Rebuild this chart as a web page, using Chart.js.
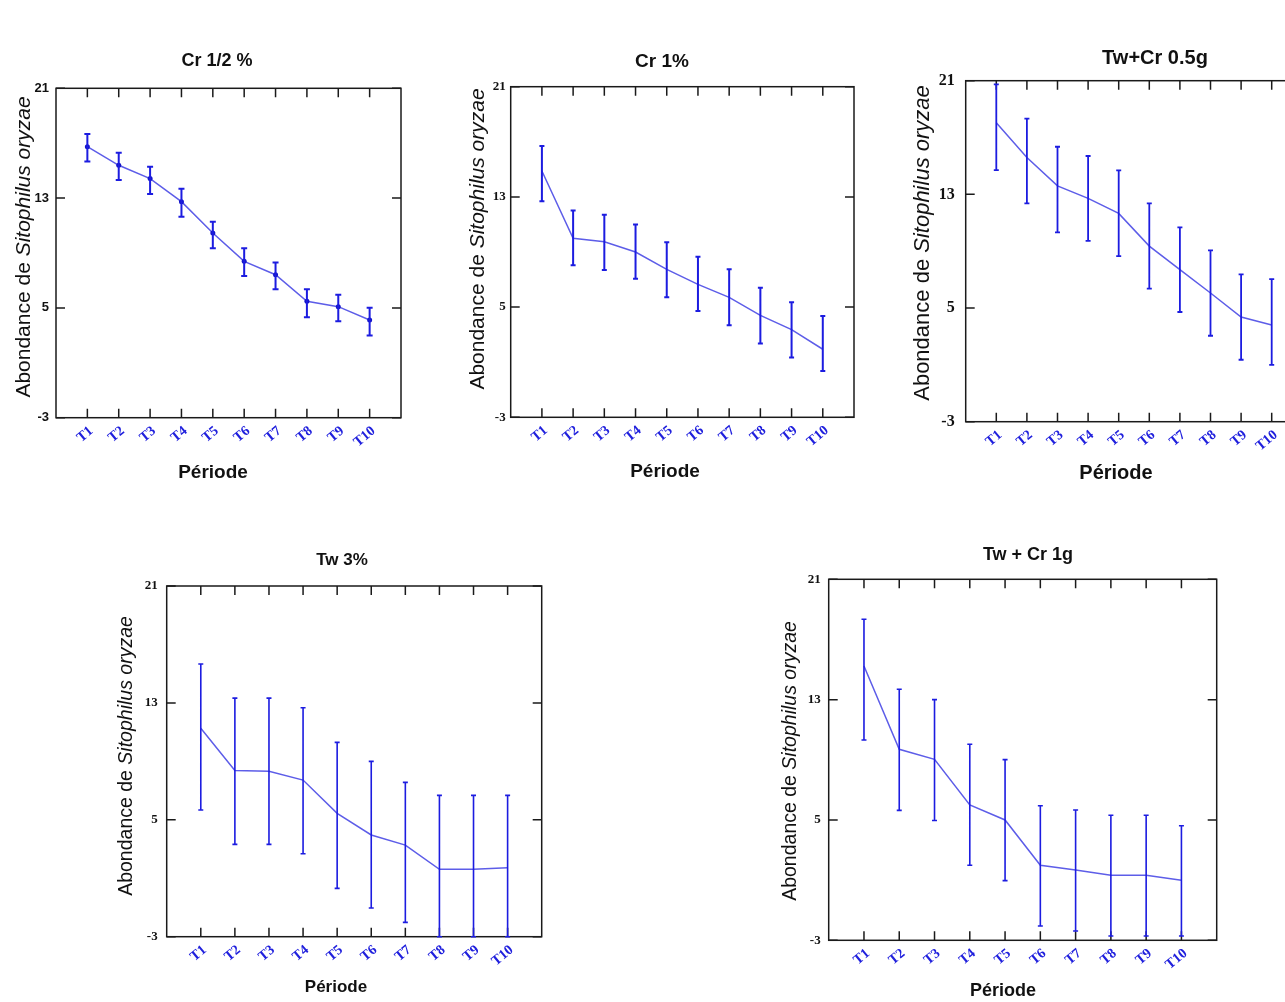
<!DOCTYPE html>
<html>
<head>
<meta charset="utf-8">
<script src="https://cdn.jsdelivr.net/npm/chart.js@4.4.1/dist/chart.umd.min.js"></script>
<style>
  html, body { margin: 0; padding: 0; background: #fff; }
  body { width: 1285px; height: 1002px; overflow: hidden; position: relative; }
  canvas { position: absolute; left: 0; top: 0; }
</style>
</head>
<body>
<canvas id="c1" width="1320" height="1002"></canvas>
<canvas id="c2" width="1320" height="1002"></canvas>
<canvas id="c3" width="1320" height="1002"></canvas>
<canvas id="c4" width="1320" height="1002"></canvas>
<canvas id="c5" width="1320" height="1002"></canvas>
<script>
const periods = ["T1", "T2", "T3", "T4", "T5", "T6", "T7", "T8", "T9", "T10"];
const yTicks = [-3, 5, 13, 21];
const xTitleText = "Période";
const yTitleA = "Abondance de ";
const yTitleB = "Sitophilus oryzae";

// Cr 1/2 %
const crHalfMean = [16.75, 15.39, 14.42, 12.74, 10.46, 8.39, 7.42, 5.48, 5.09, 4.12];
const crHalfLow = [15.66, 14.32, 13.3, 11.65, 9.34, 7.32, 6.35, 4.31, 4.02, 2.98];
const crHalfHigh = [17.67, 16.31, 15.29, 13.69, 11.28, 9.34, 8.3, 6.35, 5.96, 5.02];

// Cr 1%
const cr1Mean = [14.88, 9.99, 9.75, 9.0, 7.74, 6.65, 5.71, 4.4, 3.36, 1.94];
const cr1Low = [12.68, 8.03, 7.69, 7.06, 5.71, 4.72, 3.68, 2.35, 1.35, 0.36];
const cr1High = [16.69, 12.02, 11.71, 11.0, 9.7, 8.66, 7.74, 6.41, 5.35, 4.36];

// Tw+Cr 0.5g
const twCr05Mean = [18.04, 15.6, 13.6, 12.72, 11.66, 9.36, 7.7, 6.06, 4.37, 3.8];
const twCr05Low = [14.71, 12.37, 10.33, 9.72, 8.66, 6.36, 4.72, 3.05, 1.36, 1.0];
const twCr05High = [20.74, 18.33, 16.35, 15.7, 14.69, 12.37, 10.68, 9.06, 7.37, 7.04];

// Tw 3%
const tw3Mean = [11.26, 8.38, 8.32, 7.72, 5.44, 3.96, 3.27, 1.61, 1.61, 1.72];
const tw3Low = [5.67, 3.32, 3.32, 2.68, 0.31, -1.04, -2.02, -3, -3, -3];
const tw3High = [15.66, 13.33, 13.33, 12.67, 10.3, 9.0, 7.56, 6.67, 6.67, 6.67];

// Tw + Cr 1g
const twCr1Mean = [15.24, 9.7, 9.03, 6.0, 5.0, 1.99, 1.68, 1.32, 1.32, 0.99];
const twCr1Low = [10.32, 5.64, 4.96, 1.99, 0.97, -2.05, -2.38, -2.71, -2.71, -2.71];
const twCr1High = [18.34, 13.69, 13.0, 10.03, 9.01, 5.95, 5.66, 5.31, 5.31, 4.62];

const SANS = '"Liberation Sans", Arial, sans-serif';
const SERIF = '"Liberation Serif", "Times New Roman", serif';

function drawYTitle(ctx, cx, cy, size) {
  ctx.save();
  ctx.translate(cx, cy);
  ctx.rotate(-Math.PI / 2);
  ctx.fillStyle = "#111";
  ctx.textBaseline = "middle";
  ctx.textAlign = "left";
  const normal = size + "px " + SANS;
  const italic = "italic " + size + "px " + SANS;
  ctx.font = normal;
  const wa = ctx.measureText(yTitleA).width;
  ctx.font = italic;
  const wb = ctx.measureText(yTitleB).width;
  const start = -(wa + wb) / 2;
  ctx.font = normal;
  ctx.fillText(yTitleA, start, 0);
  ctx.font = italic;
  ctx.fillText(yTitleB, start + wa, 0);
  ctx.restore();
}

// frame with inward ticks, error bars and the titles
const framePlugin = {
  id: "frame",
  beforeDatasetsDraw(chart) {
    const { ctx, chartArea: a, scales } = chart;
    ctx.save();
    ctx.strokeStyle = "#1a1a1a";
    ctx.lineWidth = 1.5;
    ctx.strokeRect(a.left, a.top, a.right - a.left, a.bottom - a.top);
    ctx.beginPath();
    scales.x.ticks.forEach((t) => {
      const px = scales.x.getPixelForValue(t.value);
      ctx.moveTo(px, a.bottom);
      ctx.lineTo(px, a.bottom - 9);
      ctx.moveTo(px, a.top);
      ctx.lineTo(px, a.top + 9);
    });
    scales.y.ticks.forEach((t) => {
      const py = scales.y.getPixelForValue(t.value);
      ctx.moveTo(a.left, py);
      ctx.lineTo(a.left + 9, py);
      ctx.moveTo(a.right, py);
      ctx.lineTo(a.right - 9, py);
    });
    ctx.stroke();
    ctx.restore();
  },
  afterDatasetsDraw(chart, args, opts) {
    const { ctx, scales } = chart;
    const ds = chart.data.datasets[0];
    ctx.save();
    ctx.strokeStyle = opts.errColor;
    ctx.lineWidth = opts.errWidth;
    ctx.beginPath();
    ds.errLow.forEach((lo, i) => {
      const px = scales.x.getPixelForValue(i + 1);
      const y1 = scales.y.getPixelForValue(lo);
      const y2 = scales.y.getPixelForValue(ds.errHigh[i]);
      ctx.moveTo(px, y1);
      ctx.lineTo(px, y2);
      ctx.moveTo(px - opts.cap, y1);
      ctx.lineTo(px + opts.cap, y1);
      ctx.moveTo(px - opts.cap, y2);
      ctx.lineTo(px + opts.cap, y2);
    });
    ctx.stroke();
    ctx.restore();
  },
  afterDraw(chart, args, opts) {
    const ctx = chart.ctx;
    ctx.save();
    ctx.fillStyle = "#111";
    ctx.textAlign = "center";
    ctx.textBaseline = "middle";
    ctx.font = "bold " + opts.title.size + "px " + SANS;
    ctx.fillText(opts.title.text, opts.title.x, opts.title.y);
    ctx.font = "bold " + opts.xTitle.size + "px " + SANS;
    ctx.fillText(xTitleText, opts.xTitle.x, opts.xTitle.y);
    ctx.restore();
    drawYTitle(ctx, opts.yTitle.x, opts.yTitle.y, opts.yTitle.size);
  },
};

function makeChart(id, mean, low, high, s) {
  const canvas = document.getElementById(id);
  const W = canvas.width, H = canvas.height;
  const [x0, y0, x1, y1] = s.area;
  return new Chart(canvas.getContext("2d"), {
    type: "line",
    data: {
      datasets: [
        {
          data: mean.map((v, i) => ({ x: i + 1, y: v })),
          errLow: low,
          errHigh: high,
          borderColor: "rgba(75, 75, 230, 0.9)",
          borderWidth: 1.5,
          tension: 0,
          pointRadius: s.points ? 2.5 : 0,
          pointBackgroundColor: "#1414c8",
          pointBorderWidth: 0,
        },
      ],
    },
    options: {
      responsive: false,
      animation: false,
      events: [],
      layout: { padding: { left: 0, top: y0, right: W - x1, bottom: 0 } },
      plugins: {
        legend: { display: false },
        tooltip: { enabled: false },
        frame: {
          title: s.title,
          xTitle: s.xTitle,
          yTitle: s.yTitle,
          errColor: "#1c1ce0",
          errWidth: s.errWidth,
          cap: s.cap,
        },
      },
      scales: {
        x: {
          type: "linear",
          min: 0,
          max: 11,
          grid: { display: false, drawTicks: false },
          border: { display: false },
          afterBuildTicks: (sc) => {
            sc.ticks = periods.map((p, i) => ({ value: i + 1 }));
          },
          afterFit: (sc) => {
            sc.height = H - y1;
          },
          ticks: {
            autoSkip: false,
            minRotation: 40,
            maxRotation: 40,
            padding: 5,
            labelOffset: 4,
            color: "#2020dd",
            font: { family: SERIF, size: 14, weight: "bold" },
            callback: (v) => periods[v - 1],
          },
        },
        y: {
          min: -3,
          max: 21,
          grid: { display: false, drawTicks: false },
          border: { display: false },
          afterBuildTicks: (sc) => {
            sc.ticks = yTicks.map((v) => ({ value: v }));
          },
          afterFit: (sc) => {
            sc.width = x0;
          },
          ticks: {
            padding: s.yPad,
            color: "#111",
            font: s.yFont,
          },
        },
      },
    },
    plugins: [framePlugin],
  });
}

makeChart("c1", crHalfMean, crHalfLow, crHalfHigh, {
  area: [56, 88.3, 401, 417.7],
  title: { text: "Cr 1/2 %", x: 217, y: 61, size: 18 },
  xTitle: { x: 213, y: 473, size: 19 },
  yTitle: { x: 24, y: 247, size: 21 },
  yFont: { family: SANS, size: 13, weight: "bold" },
  yPad: 7,
  points: true,
  errWidth: 2,
  cap: 3,
});

makeChart("c2", cr1Mean, cr1Low, cr1High, {
  area: [510.7, 86.7, 854, 417.3],
  title: { text: "Cr 1%", x: 662, y: 62, size: 19 },
  xTitle: { x: 665, y: 472, size: 19 },
  yTitle: { x: 478, y: 239, size: 21 },
  yFont: { family: SERIF, size: 13, weight: "bold" },
  yPad: 5,
  points: false,
  errWidth: 2,
  cap: 2.5,
});

makeChart("c3", twCr05Mean, twCr05Low, twCr05High, {
  area: [965.7, 80.7, 1302.3, 421.7],
  title: { text: "Tw+Cr 0.5g", x: 1155, y: 58, size: 20 },
  xTitle: { x: 1116, y: 473, size: 20 },
  yTitle: { x: 923, y: 243, size: 22 },
  yFont: { family: SERIF, size: 16, weight: "bold" },
  yPad: 11,
  points: false,
  errWidth: 1.8,
  cap: 2.5,
});

makeChart("c4", tw3Mean, tw3Low, tw3High, {
  area: [166.7, 586, 541.7, 936.7],
  title: { text: "Tw 3%", x: 342, y: 560, size: 17 },
  xTitle: { x: 336, y: 987, size: 17 },
  yTitle: { x: 127, y: 756, size: 19.5 },
  yFont: { family: SERIF, size: 13, weight: "bold" },
  yPad: 9,
  points: false,
  errWidth: 1.6,
  cap: 2.5,
});

makeChart("c5", twCr1Mean, twCr1Low, twCr1High, {
  area: [828.7, 579.3, 1216.7, 940.3],
  title: { text: "Tw + Cr 1g", x: 1028, y: 555, size: 18 },
  xTitle: { x: 1003, y: 991, size: 18 },
  yTitle: { x: 791, y: 761, size: 19.5 },
  yFont: { family: SERIF, size: 13, weight: "bold" },
  yPad: 8,
  points: false,
  errWidth: 1.6,
  cap: 2.5,
});
</script>
</body>
</html>
